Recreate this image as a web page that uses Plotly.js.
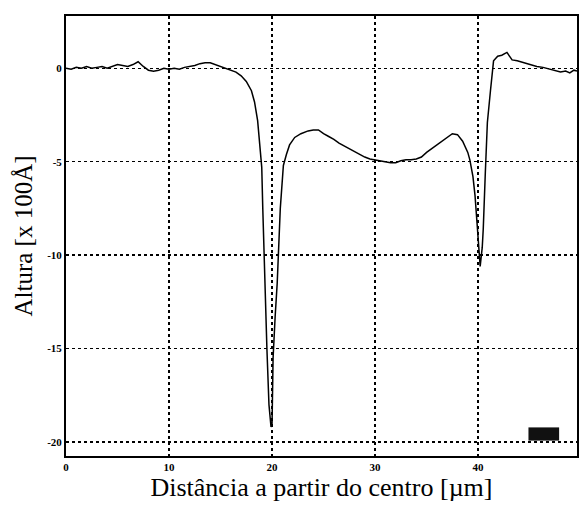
<!DOCTYPE html>
<html>
<head>
<meta charset="utf-8">
<script src="https://cdn.plot.ly/plotly-3.0.1.min.js"></script>
<style>html,body{margin:0;padding:0;background:#fff;}#chart{width:579px;height:505px;}</style>
</head>
<body>
<div id="chart"></div>
<script>
// Profile: distance from centre (µm) vs height (x 100 Å)
const distance = [0, 0.5, 1, 1.5, 2, 2.5, 3, 3.5, 4, 4.5, 5, 5.5, 6, 6.5, 7, 7.5, 8, 8.5, 9, 9.5,
  10, 10.5, 11, 11.5, 12, 12.5, 13, 13.5, 14, 14.5, 15, 15.5, 16, 16.5, 17, 17.5, 18, 18.3, 18.6, 18.8,
  19.0, 19.1, 19.2, 19.3, 19.5, 19.7, 19.9, 20.0, 20.1, 20.3, 20.5, 20.8, 21.1, 21.4, 21.7, 22.2, 22.8, 23.5,
  24, 24.5, 25, 25.5, 26, 26.5, 27, 27.5, 28, 28.5, 29, 29.5, 30, 30.5, 31, 31.5, 32, 32.5, 33, 33.5,
  34, 34.5, 35, 35.5, 36, 36.5, 37, 37.5, 38, 38.5, 39, 39.2, 39.5, 39.7, 39.9, 40.1, 40.2, 40.4, 40.5,
  40.7, 40.9, 41.2, 41.5, 41.9, 42.3, 42.8, 43.3, 43.8, 44.4, 45, 45.7, 46.3, 47, 47.5, 48, 48.5, 48.9, 49.3, 49.6];
const height = [0, -0.05, 0.05, 0, 0.1, 0, 0.05, 0.1, 0, 0.1, 0.2, 0.15, 0.1, 0.2, 0.35, 0.1, -0.1, -0.15, -0.1, 0,
  -0.05, 0, -0.05, 0.05, 0.1, 0.15, 0.25, 0.3, 0.3, 0.2, 0.1, 0, -0.1, -0.2, -0.4, -0.7, -1.2, -1.8, -2.8, -4.0,
  -5.3, -7.5, -9.7, -12.0, -15.0, -18.0, -19.2, -19.0, -15.5, -13.3, -11.5, -7.5, -5.2, -4.6, -4.1, -3.7, -3.5, -3.35,
  -3.3, -3.3, -3.5, -3.65, -3.8, -4.0, -4.15, -4.3, -4.45, -4.6, -4.75, -4.85, -4.9, -4.95, -5.0, -5.05, -5.05, -4.95, -4.9, -4.9,
  -4.85, -4.75, -4.5, -4.3, -4.1, -3.9, -3.7, -3.5, -3.55, -3.9, -4.5, -4.9, -5.8, -6.8, -8.3, -10.2, -10.6, -9.6, -8.6,
  -5.6, -2.9, -1.2, 0.4, 0.65, 0.7, 0.85, 0.45, 0.4, 0.3, 0.2, 0.1, 0.05, -0.05, -0.1, -0.2, -0.15, -0.25, -0.1, -0.15];

const xTicks = [0, 10, 20, 30, 40];
const yTicks = [0, -5, -10, -15, -20];

const serif = "Liberation Serif, Times New Roman, serif";

const trace = {
  x: distance, y: height, type: 'scatter', mode: 'lines',
  line: {color: '#000', width: 1.5}, showlegend: false, hoverinfo: 'x+y'
};

const layout = {
  width: 579, height: 505,
  margin: {l: 66, r: 2, t: 16, b: 49},
  paper_bgcolor: '#fff', plot_bgcolor: '#fff',
  font: {family: serif, color: '#000'},
  xaxis: {
    range: [0, 49.6], tickvals: xTicks, ticktext: xTicks.map(String),
    showgrid: true, gridcolor: '#000', gridwidth: 1.5, griddash: 'dot',
    showline: true, linecolor: '#000', linewidth: 2, mirror: true,
    zeroline: false, ticks: '', tickfont: {size: 11, family: serif, weight: 'bold'},
    title: {text: 'Distância a partir do centro [µm]', font: {size: 26, family: serif}, standoff: 2},
    automargin: false
  },
  yaxis: {
    range: [-20.75, 2.8], tickvals: yTicks, ticktext: yTicks.map(String),
    showgrid: true, gridcolor: '#000', gridwidth: 1.5, griddash: 'dot',
    showline: true, linecolor: '#000', linewidth: 2, mirror: true,
    zeroline: false, ticks: '', tickfont: {size: 11, family: serif, weight: 'bold'},
    title: {text: 'Altura [x 100Å]', font: {size: 25, family: serif}, standoff: 7},
    automargin: false
  },
  shapes: [
    {type: 'rect', xref: 'paper', yref: 'paper', x0: 0.905, x1: 0.965, y0: 0.035, y1: 0.065,
     fillcolor: '#111', line: {width: 0}}
  ]
};

Plotly.newPlot('chart', [trace], layout, {displayModeBar: false, staticPlot: true});
</script>
</body>
</html>
